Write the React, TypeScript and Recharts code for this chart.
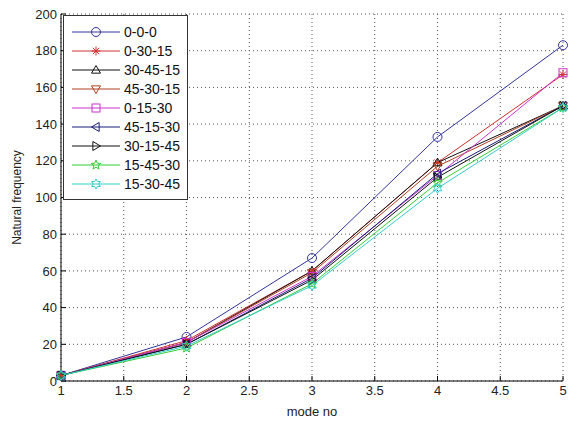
import React from 'react';
import { LineChart, Line, XAxis, YAxis, CartesianGrid, Legend } from 'recharts';

const modes = [1, 2, 3, 4, 5];
const xTicks = [1, 1.5, 2, 2.5, 3, 3.5, 4, 4.5, 5];
const yTicks = [0, 20, 40, 60, 80, 100, 120, 140, 160, 180, 200];

const s000 = [3, 24, 67, 133, 183];
const s03015 = [3, 22, 60, 119, 167];
const s304515 = [3, 21, 60, 119, 150];
const s453015 = [3, 21, 59, 117, 150];
const s01530 = [3, 21, 57, 112, 168];
const s451530 = [3, 20, 56, 113, 150];
const s301545 = [3, 20, 55, 111, 150];
const s154530 = [3, 18, 53, 108, 149];
const s153045 = [3, 19, 52, 105, 149];

type Shape = 'circle' | 'star' | 'up' | 'down' | 'square' | 'left' | 'right' | 'penta' | 'hexa';

const series: { key: string; name: string; values: number[]; color: string; shape: Shape }[] = [
  { key: 's000', name: '0-0-0', values: s000, color: '#34349a', shape: 'circle' },
  { key: 's03015', name: '0-30-15', values: s03015, color: '#d03030', shape: 'star' },
  { key: 's304515', name: '30-45-15', values: s304515, color: '#111111', shape: 'up' },
  { key: 's453015', name: '45-30-15', values: s453015, color: '#b04020', shape: 'down' },
  { key: 's01530', name: '0-15-30', values: s01530, color: '#cc33cc', shape: 'square' },
  { key: 's451530', name: '45-15-30', values: s451530, color: '#1a1a7a', shape: 'left' },
  { key: 's301545', name: '30-15-45', values: s301545, color: '#111111', shape: 'right' },
  { key: 's154530', name: '15-45-30', values: s154530, color: '#33cc33', shape: 'penta' },
  { key: 's153045', name: '15-30-45', values: s153045, color: '#33cccc', shape: 'hexa' },
];

const data = modes.map((m, i) => {
  const row: Record<string, number> = { mode: m };
  series.forEach(s => { row[s.key] = s.values[i]; });
  return row;
});

const starPoints = (cx: number, cy: number, n: number, ro: number, ri: number) => {
  const pts: string[] = [];
  for (let k = 0; k < n * 2; k++) {
    const r = k % 2 === 0 ? ro : ri;
    const a = -Math.PI / 2 + (k * Math.PI) / n;
    pts.push(`${cx + r * Math.cos(a)},${cy + r * Math.sin(a)}`);
  }
  return pts.join(' ');
};

const Marker = ({ cx, cy, shape, color }: { cx: number; cy: number; shape: Shape; color: string }) => {
  const r = 4.5;
  const p = { stroke: color, strokeWidth: 1, fill: 'none' };
  switch (shape) {
    case 'circle':
      return <circle cx={cx} cy={cy} r={r} {...p} />;
    case 'star':
      return (
        <g {...p}>
          <line x1={cx - r} y1={cy} x2={cx + r} y2={cy} />
          <line x1={cx} y1={cy - r} x2={cx} y2={cy + r} />
          <line x1={cx - 3.2} y1={cy - 3.2} x2={cx + 3.2} y2={cy + 3.2} />
          <line x1={cx - 3.2} y1={cy + 3.2} x2={cx + 3.2} y2={cy - 3.2} />
        </g>
      );
    case 'up':
      return <polygon points={`${cx},${cy - r} ${cx - r},${cy + r * 0.7} ${cx + r},${cy + r * 0.7}`} {...p} />;
    case 'down':
      return <polygon points={`${cx},${cy + r} ${cx - r},${cy - r * 0.7} ${cx + r},${cy - r * 0.7}`} {...p} />;
    case 'square':
      return <rect x={cx - 4} y={cy - 4} width={8} height={8} {...p} />;
    case 'left':
      return <polygon points={`${cx - r},${cy} ${cx + r * 0.7},${cy - r} ${cx + r * 0.7},${cy + r}`} {...p} />;
    case 'right':
      return <polygon points={`${cx + r},${cy} ${cx - r * 0.7},${cy - r} ${cx - r * 0.7},${cy + r}`} {...p} />;
    case 'penta':
      return <polygon points={starPoints(cx, cy, 5, 5, 2.2)} {...p} />;
    case 'hexa':
      return <polygon points={starPoints(cx, cy, 6, 5, 2.8)} {...p} />;
  }
  return null;
};

const font = '"Liberation Sans", Arial, sans-serif';

const renderLegend = () => (
  <div
    style={{
      border: '1px solid #333',
      background: '#fff',
      width: 125,
      boxSizing: 'border-box',
      padding: '6px 0 5px 0',
      fontFamily: font,
      fontSize: 14,
      lineHeight: '16px',
      color: '#111',
    }}
  >
    {series.map(s => (
      <div key={s.key} style={{ display: 'flex', alignItems: 'center', height: 19.1 }}>
        <svg width={58} height={14} style={{ flex: 'none' }}>
          <line x1={8} y1={7} x2={56} y2={7} stroke={s.color} strokeWidth={1} />
          <Marker cx={32} cy={7} shape={s.shape} color={s.color} />
        </svg>
        <span style={{ marginLeft: 2 }}>{s.name}</span>
      </div>
    ))}
  </div>
);

export default function App() {
  return (
    <div style={{ position: 'absolute', left: 0, top: 0, background: '#fff' }}>
      <LineChart width={573} height={421} data={data} margin={{ top: 14, right: 10, left: 0, bottom: 0 }}>
        <CartesianGrid stroke="#555" strokeDasharray="1 3" />
        <XAxis
          dataKey="mode"
          type="number"
          domain={[1, 5]}
          ticks={xTicks}
          interval={0}
          height={40}
          stroke="#000"
          tickSize={-5}
          tickMargin={10}
          tick={{ fill: '#222', fontSize: 13, fontFamily: font }}
          label={{ value: 'mode no', position: 'insideBottom', offset: 5, fill: '#222', fontSize: 13, fontFamily: font }}
        />
        <XAxis xAxisId="top" orientation="top" dataKey="mode" type="number" domain={[1, 5]} ticks={xTicks} interval={0} height={0} stroke="#000" tickSize={-5} tick={false} />
        <YAxis
          type="number"
          domain={[0, 200]}
          ticks={yTicks}
          interval={0}
          width={61}
          stroke="#000"
          tickSize={-5}
          tickMargin={9}
          tick={{ fill: '#222', fontSize: 13, fontFamily: font }}
          label={{ value: 'Natural frequency', angle: -90, position: 'insideLeft', offset: 17, style: { textAnchor: 'middle' }, fill: '#222', fontSize: 12, fontFamily: font }}
        />
        <YAxis yAxisId="right" orientation="right" type="number" domain={[0, 200]} ticks={yTicks} interval={0} width={0} stroke="#000" tickSize={-5} tick={false} />
        <Legend
          layout="vertical"
          align="center"
          verticalAlign="middle"
          content={renderLegend}
          wrapperStyle={{ position: 'absolute', top: 15, left: 63, width: 125, bottom: 'auto', right: 'auto' }}
        />
        {series.map(s => (
          <Line
            key={s.key}
            dataKey={s.key}
            name={s.name}
            type="linear"
            stroke={s.color}
            strokeWidth={1}
            isAnimationActive={false}
            dot={(props: any) => (
              <Marker key={`${s.key}-${props.index}`} cx={props.cx} cy={props.cy} shape={s.shape} color={s.color} />
            )}
            activeDot={false}
          />
        ))}
      </LineChart>
    </div>
  );
}
